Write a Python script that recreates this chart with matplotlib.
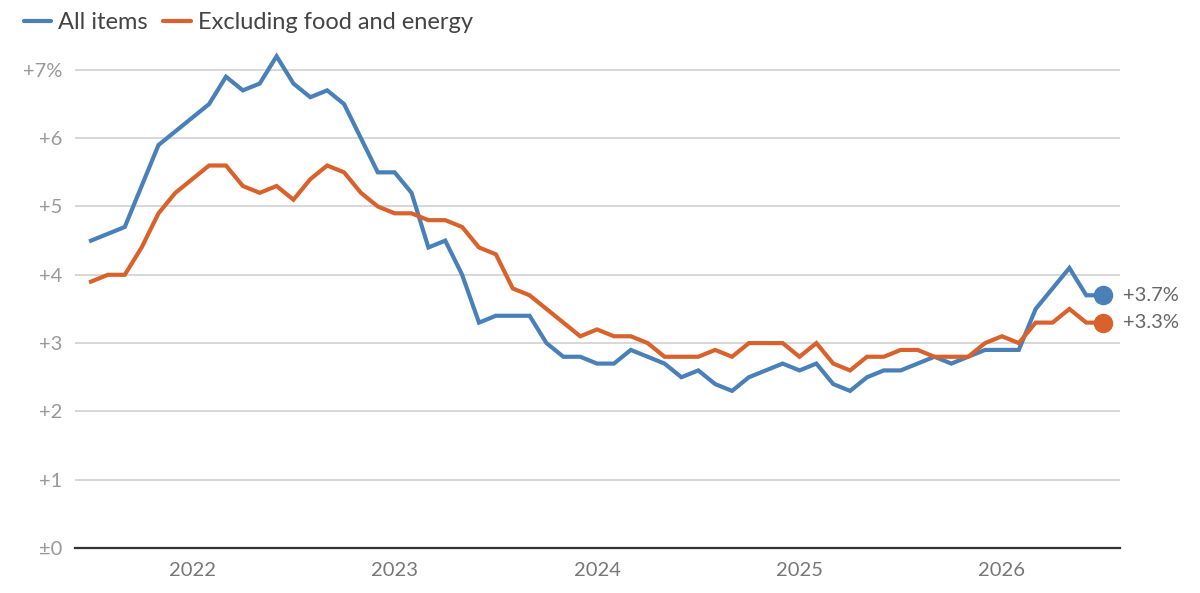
import matplotlib
matplotlib.use('Agg')
import matplotlib.pyplot as plt

# monthly CPI change, Jul 2021 .. Jul 2026
all_items = [4.5, 4.6, 4.7, 5.3, 5.9, 6.1, 6.3, 6.5, 6.9, 6.7, 6.8, 7.2,
             6.8, 6.6, 6.7, 6.5, 6.0, 5.5, 5.5, 5.2, 4.4, 4.5, 4.0, 3.3,
             3.4, 3.4, 3.4, 3.0, 2.8, 2.8, 2.7, 2.7, 2.9, 2.8, 2.7, 2.5,
             2.6, 2.4, 2.3, 2.5, 2.6, 2.7, 2.6, 2.7, 2.4, 2.3, 2.5, 2.6,
             2.6, 2.7, 2.8, 2.7, 2.8, 2.9, 2.9, 2.9, 3.5, 3.8, 4.1, 3.7, 3.7]
core = [3.9, 4.0, 4.0, 4.4, 4.9, 5.2, 5.4, 5.6, 5.6, 5.3, 5.2, 5.3,
        5.1, 5.4, 5.6, 5.5, 5.2, 5.0, 4.9, 4.9, 4.8, 4.8, 4.7, 4.4,
        4.3, 3.8, 3.7, 3.5, 3.3, 3.1, 3.2, 3.1, 3.1, 3.0, 2.8, 2.8,
        2.8, 2.9, 2.8, 3.0, 3.0, 3.0, 2.8, 3.0, 2.7, 2.6, 2.8, 2.8,
        2.9, 2.9, 2.8, 2.8, 2.8, 3.0, 3.1, 3.0, 3.3, 3.3, 3.5, 3.3, 3.3]
year_ticks = [6, 18, 30, 42, 54]
year_labels = ['2022', '2023', '2024', '2025', '2026']
y_ticks = [0, 1, 2, 3, 4, 5, 6, 7]
y_labels = ['±0', '+1', '+2', '+3', '+4', '+5', '+6', '+7%']
series_names = ['All items', 'Excluding food and energy']
end_labels = ['+3.7%', '+3.3%']

BLUE = '#4a80b8'
ORANGE = '#d9612b'

plt.rcParams['font.family'] = ['Lato', 'DejaVu Sans']

fig = plt.figure(figsize=(12, 5.93), dpi=100)
ax = fig.add_axes([75 / 1200, 45 / 593, 1045 / 1200, 498.6 / 593])

x = list(range(len(all_items)))
ax.plot(x, all_items, color=BLUE, lw=3, solid_joinstyle='miter', label=series_names[0], zorder=3)
ax.plot(x, core, color=ORANGE, lw=3, solid_joinstyle='miter', label=series_names[1], zorder=3)

ax.plot(x[-1], all_items[-1], 'o', color=BLUE, ms=13, zorder=4)
ax.plot(x[-1], core[-1], 'o', color=ORANGE, ms=13, zorder=4)
for val, lab in zip([all_items[-1], core[-1]], end_labels):
    ax.annotate(lab, (x[-1], val), xytext=(14, 0), textcoords='offset points',
                ha='left', va='center', fontsize=14.5, color='#666666', annotation_clip=False)

ax.set_xlim(-0.95, 61.0)
ax.set_ylim(0, 7.3)
ax.set_yticks(y_ticks)
ax.set_yticklabels(y_labels)
ax.set_xticks(year_ticks)
ax.set_xticklabels(year_labels)
ax.tick_params(axis='both', length=0, labelsize=14.5, colors='#999999')
ax.tick_params(axis='x', pad=10, labelcolor='#777777')
ax.tick_params(axis='y', pad=9)

ax.grid(axis='y', color='#d4d4d4', lw=1.3)
ax.set_axisbelow(True)
for s in ['top', 'right', 'left']:
    ax.spines[s].set_visible(False)
ax.spines['bottom'].set_color('#333333')
ax.spines['bottom'].set_linewidth(1.6)

leg = ax.legend(loc='upper left', bbox_to_anchor=(10 / 1200, 1.003), bbox_transform=fig.transFigure,
                ncol=2, frameon=False, fontsize=17, handlelength=1.15, handletextpad=0.3,
                columnspacing=0.65, borderaxespad=0.2)
for t in leg.get_texts():
    t.set_color('#444444')
for h in leg.get_lines():
    h.set_solid_capstyle('round')

fig.savefig('out.png', dpi=100)
